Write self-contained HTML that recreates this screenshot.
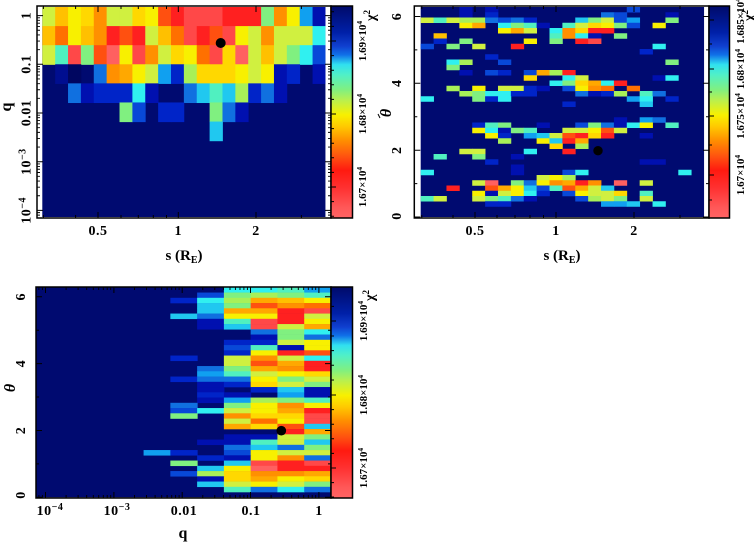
<!DOCTYPE html>
<html><head><meta charset="utf-8"><style>
html,body{margin:0;padding:0;background:#fff;}
svg{display:block;}
text{font-family:"Liberation Serif",serif;font-weight:bold;fill:#000;}
.tl{font-size:14px;letter-spacing:0.5px;}
.cbl{font-size:11px;}
.N{fill:#000a70}.n0{fill:#000e90}.dk{fill:#000660}.n1{fill:#0010b0}.b2{fill:#0024c8}.b3{fill:#0848d8}.b4{fill:#1070e0}.s{fill:#10a0f0}.s2{fill:#20c8f0}.c{fill:#30f0f0}.cg{fill:#50f0c0}.g{fill:#80f080}.gy{fill:#a8f058}.yg{fill:#d0f040}.y{fill:#f8f000}.yo{fill:#ffd800}.yc{fill:#ffc000}.o1{fill:#ffa800}.o{fill:#ff9000}.o2{fill:#ff7000}.or{fill:#ff5010}.r{fill:#ff2020}.lr{fill:#ff4848}.pr{fill:#ff6060}
</style></head><body>
<svg width="754" height="543" viewBox="0 0 754 543" xmlns="http://www.w3.org/2000/svg">
<defs>
<linearGradient id="cb" x1="0" y1="0" x2="0" y2="1">
<stop offset="0" stop-color="#000a6a"/><stop offset="0.125" stop-color="#0020a8"/><stop offset="0.19" stop-color="#1040d0"/><stop offset="0.23" stop-color="#1070e8"/><stop offset="0.276" stop-color="#30e0f0"/><stop offset="0.324" stop-color="#50f0c8"/><stop offset="0.395" stop-color="#80f080"/><stop offset="0.443" stop-color="#b8f050"/><stop offset="0.514" stop-color="#f8f000"/><stop offset="0.57" stop-color="#ffc800"/><stop offset="0.633" stop-color="#ff9000"/><stop offset="0.713" stop-color="#ff5010"/><stop offset="0.776" stop-color="#ff1a10"/><stop offset="0.855" stop-color="#ff3030"/><stop offset="0.95" stop-color="#ff5858"/><stop offset="1" stop-color="#ff6464"/>
</linearGradient>
</defs>
<rect width="754" height="543" fill="#fff"/>

<!-- ===== TOP LEFT HEATMAP ===== -->
<g transform="translate(42.3,7) scale(12.87,19.09)">
<rect x="0" y="0" width="22" height="11" class="N"/>
<rect x="0" y="0" width="1.03" height="1.03" class="yg"/><rect x="1" y="0" width="1.03" height="1.03" class="yc"/><rect x="2" y="0" width="1.03" height="1.03" class="y"/><rect x="3" y="0" width="1.03" height="1.03" class="yo"/><rect x="4" y="0" width="1.03" height="1.03" class="o"/><rect x="5" y="0" width="1.03" height="1.03" class="yg"/><rect x="6" y="0" width="1.03" height="1.03" class="yg"/><rect x="7" y="0" width="1.03" height="1.03" class="yo"/><rect x="8" y="0" width="1.03" height="1.03" class="y"/><rect x="9" y="0" width="1.03" height="1.03" class="or"/><rect x="10" y="0" width="1.03" height="1.03" class="r"/><rect x="11" y="0" width="1.03" height="1.03" class="lr"/><rect x="12" y="0" width="1.03" height="1.03" class="lr"/><rect x="13" y="0" width="1.03" height="1.03" class="lr"/><rect x="14" y="0" width="1.03" height="1.03" class="r"/><rect x="15" y="0" width="1.03" height="1.03" class="r"/><rect x="16" y="0" width="1.03" height="1.03" class="r"/><rect x="17" y="0" width="1.03" height="1.03" class="g"/><rect x="18" y="0" width="1.03" height="1.03" class="o"/><rect x="19" y="0" width="1.03" height="1.03" class="y"/><rect x="20" y="0" width="1.03" height="1.03" class="s"/><rect x="21" y="0" width="1" height="1.03" class="n1"/>
<rect x="0" y="1" width="1.03" height="1.03" class="yc"/><rect x="1" y="1" width="1.03" height="1.03" class="o2"/><rect x="2" y="1" width="1.03" height="1.03" class="y"/><rect x="3" y="1" width="1.03" height="1.03" class="yc"/><rect x="4" y="1" width="1.03" height="1.03" class="o"/><rect x="5" y="1" width="1.03" height="1.03" class="r"/><rect x="6" y="1" width="1.03" height="1.03" class="or"/><rect x="7" y="1" width="1.03" height="1.03" class="r"/><rect x="8" y="1" width="1.03" height="1.03" class="yg"/><rect x="9" y="1" width="1.03" height="1.03" class="yc"/><rect x="10" y="1" width="1.03" height="1.03" class="o2"/><rect x="11" y="1" width="1.03" height="1.03" class="lr"/><rect x="12" y="1" width="1.03" height="1.03" class="r"/><rect x="13" y="1" width="1.03" height="1.03" class="or"/><rect x="14" y="1" width="1.03" height="1.03" class="lr"/><rect x="15" y="1" width="1.03" height="1.03" class="y"/><rect x="16" y="1" width="1.03" height="1.03" class="yg"/><rect x="17" y="1" width="1.03" height="1.03" class="o"/><rect x="18" y="1" width="1.03" height="1.03" class="yg"/><rect x="19" y="1" width="1.03" height="1.03" class="yg"/><rect x="20" y="1" width="1.03" height="1.03" class="yg"/><rect x="21" y="1" width="1" height="1.03" class="c"/>
<rect x="0" y="2" width="1.03" height="1.03" class="yg"/><rect x="1" y="2" width="1.03" height="1.03" class="cg"/><rect x="2" y="2" width="1.03" height="1.03" class="lr"/><rect x="3" y="2" width="1.03" height="1.03" class="g"/><rect x="4" y="2" width="1.03" height="1.03" class="or"/><rect x="5" y="2" width="1.03" height="1.03" class="pr"/><rect x="6" y="2" width="1.03" height="1.03" class="y"/><rect x="7" y="2" width="1.03" height="1.03" class="lr"/><rect x="8" y="2" width="1.03" height="1.03" class="o"/><rect x="9" y="2" width="1.03" height="1.03" class="yg"/><rect x="10" y="2" width="1.03" height="1.03" class="yo"/><rect x="11" y="2" width="1.03" height="1.03" class="y"/><rect x="12" y="2" width="1.03" height="1.03" class="o2"/><rect x="13" y="2" width="1.03" height="1.03" class="lr"/><rect x="14" y="2" width="1.03" height="1.03" class="yo"/><rect x="15" y="2" width="1.03" height="1.03" class="pr"/><rect x="16" y="2" width="1.03" height="1.03" class="yg"/><rect x="17" y="2" width="1.03" height="1.03" class="yc"/><rect x="18" y="2" width="1.03" height="1.03" class="yg"/><rect x="19" y="2" width="1.03" height="1.03" class="g"/><rect x="20" y="2" width="1.03" height="1.03" class="c"/><rect x="21" y="2" width="1" height="1.03" class="b3"/>
<rect x="1" y="3" width="1.03" height="1.03" class="n0"/><rect x="2" y="3" width="1.03" height="1.03" class="dk"/><rect x="4" y="3" width="1.03" height="1.03" class="b4"/><rect x="5" y="3" width="1.03" height="1.03" class="o"/><rect x="6" y="3" width="1.03" height="1.03" class="o1"/><rect x="7" y="3" width="1.03" height="1.03" class="y"/><rect x="8" y="3" width="1.03" height="1.03" class="yg"/><rect x="9" y="3" width="1.03" height="1.03" class="s"/><rect x="10" y="3" width="1.03" height="1.03" class="b2"/><rect x="11" y="3" width="1.03" height="1.03" class="gy"/><rect x="12" y="3" width="1.03" height="1.03" class="yo"/><rect x="13" y="3" width="1.03" height="1.03" class="yo"/><rect x="14" y="3" width="1.03" height="1.03" class="yo"/><rect x="15" y="3" width="1.03" height="1.03" class="y"/><rect x="16" y="3" width="1.03" height="1.03" class="yg"/><rect x="17" y="3" width="1.03" height="1.03" class="y"/><rect x="18" y="3" width="1.03" height="1.03" class="n1"/><rect x="19" y="3" width="1.03" height="1.03" class="b2"/><rect x="21" y="3" width="1" height="1.03" class="n1"/>
<rect x="2" y="4" width="1.03" height="1.03" class="b4"/><rect x="3" y="4" width="1.03" height="1.03" class="n1"/><rect x="4" y="4" width="1.03" height="1.03" class="b2"/><rect x="5" y="4" width="1.03" height="1.03" class="b2"/><rect x="6" y="4" width="1.03" height="1.03" class="b2"/><rect x="7" y="4" width="1.03" height="1.03" class="c"/><rect x="8" y="4" width="1.03" height="1.03" class="n1"/><rect x="11" y="4" width="1.03" height="1.03" class="b4"/><rect x="12" y="4" width="1.03" height="1.03" class="s2"/><rect x="13" y="4" width="1.03" height="1.03" class="cg"/><rect x="14" y="4" width="1.03" height="1.03" class="s2"/><rect x="15" y="4" width="1.03" height="1.03" class="gy"/><rect x="16" y="4" width="1.03" height="1.03" class="b2"/><rect x="17" y="4" width="1.03" height="1.03" class="b4"/><rect x="18" y="4" width="1.03" height="1.03" class="n1"/>
<rect x="6" y="5" width="1.03" height="1.03" class="g"/><rect x="7" y="5" width="1.03" height="1.03" class="b3"/><rect x="9" y="5" width="1.03" height="1.03" class="b2"/><rect x="10" y="5" width="1.03" height="1.03" class="b2"/><rect x="13" y="5" width="1.03" height="1.03" class="g"/><rect x="14" y="5" width="1.03" height="1.03" class="b4"/><rect x="15" y="5" width="1.03" height="1.03" class="n1"/>
<rect x="13" y="6" width="1.03" height="1.03" class="s2"/>
</g>
<circle cx="220.7" cy="43" r="5" fill="#000"/>
<!-- TL frame and colorbar -->
<rect x="37" y="6" width="294" height="212" fill="none" stroke="#000" stroke-width="1.5"/>
<rect x="331" y="6" width="21.5" height="212" fill="url(#cb)" stroke="#000" stroke-width="1.5"/>
<path d="M37 15.6h6M37 64.3h6M37 113h6M37 161.7h6M37 210.4h6M331 15.6h-6M331 64.3h-6M331 113h-6M331 161.7h-6M331 210.4h-6" stroke="#000" stroke-width="1"/>
<path d="M37 17.83h3M37 20.32h3M37 23.15h3M37 26.4h3M37 30.26h3M37 34.98h3M37 41.06h3M37 49.64h3M37 66.53h3M37 69.02h3M37 71.85h3M37 75.1h3M37 78.96h3M37 83.68h3M37 89.76h3M37 98.34h3M37 115.23h3M37 117.72h3M37 120.55h3M37 123.8h3M37 127.66h3M37 132.38h3M37 138.46h3M37 147.04h3M37 163.93h3M37 166.42h3M37 169.25h3M37 172.5h3M37 176.36h3M37 181.08h3M37 187.16h3M37 195.74h3M37 212.63h3M37 215.12h3
M331 17.83h-3M331 20.32h-3M331 23.15h-3M331 26.4h-3M331 30.26h-3M331 34.98h-3M331 41.06h-3M331 49.64h-3M331 66.53h-3M331 69.02h-3M331 71.85h-3M331 75.1h-3M331 78.96h-3M331 83.68h-3M331 89.76h-3M331 98.34h-3M331 115.23h-3M331 117.72h-3M331 120.55h-3M331 123.8h-3M331 127.66h-3M331 132.38h-3M331 138.46h-3M331 147.04h-3M331 163.93h-3M331 166.42h-3M331 169.25h-3M331 172.5h-3M331 176.36h-3M331 181.08h-3M331 187.16h-3M331 195.74h-3M331 212.63h-3M331 215.12h-3" stroke="#000" stroke-width="0.9"/>
<path d="M98 218v-6M178.3 218v-6M256 218v-6M98 6v6M178.3 6v6M256 6v6M43.4 218v-3M75.6 218v-3M121 218v-3M138.3 218v-3M153.3 218v-3M166.5 218v-3M301.4 218v-3M43.4 6v3M75.6 6v3M121 6v3M138.3 6v3M153.3 6v3M166.5 6v3M301.4 6v3" stroke="#000" stroke-width="1"/>
<path d="M331 41h5M331 114h5M331 187h5M331 11.8h3M331 26.4h3M331 55.6h3M331 70.2h3M331 84.8h3M331 99.4h3M331 128.6h3M331 143.2h3M331 157.8h3M331 172.4h3M331 201.6h3M331 216.2h3" stroke="#000" stroke-width="1"/>
<!-- TL labels -->
<text class="tl" transform="translate(30.5,15.6) rotate(-90)" text-anchor="middle">1</text>
<text class="tl" transform="translate(30.5,64.3) rotate(-90)" text-anchor="middle">0.1</text>
<text class="tl" transform="translate(30.5,113) rotate(-90)" text-anchor="middle">0.01</text>
<text class="tl" transform="translate(30.5,161.7) rotate(-90)" text-anchor="middle">10<tspan font-size="10" dy="-5">−3</tspan></text>
<text class="tl" transform="translate(30.5,210.4) rotate(-90)" text-anchor="middle">10<tspan font-size="10" dy="-5">−4</tspan></text>
<text transform="translate(11,107) rotate(-90)" text-anchor="middle" font-size="16">q</text>
<text class="tl" x="98" y="235" text-anchor="middle">0.5</text>
<text class="tl" x="178.3" y="235" text-anchor="middle">1</text>
<text class="tl" x="256" y="235" text-anchor="middle">2</text>
<text x="184" y="260" text-anchor="middle" font-size="15">s (R<tspan font-size="10" dy="3">E</tspan><tspan dy="-3">)</tspan></text>
<text class="cbl" transform="translate(366,41) rotate(-90)" text-anchor="middle">1.69×10<tspan font-size="7.5" dy="-4">4</tspan></text>
<text class="cbl" transform="translate(366,114) rotate(-90)" text-anchor="middle">1.68×10<tspan font-size="7.5" dy="-4">4</tspan></text>
<text class="cbl" transform="translate(366,187) rotate(-90)" text-anchor="middle">1.67×10<tspan font-size="7.5" dy="-4">4</tspan></text>
<text transform="translate(375,21) rotate(-90)" font-size="14">χ<tspan font-size="9" dy="-5">2</tspan></text>
<path d="M378 114l2 4" stroke="#000" stroke-width="1"/>

<!-- ===== TOP RIGHT HEATMAP ===== -->
<g transform="translate(420.7,7) scale(12.88,5.25)">
<rect x="0" y="0" width="22" height="40" class="N"/>
<rect x="3" y="0" width="1.03" height="1.05" class="n1"/><rect x="5" y="0" width="1.03" height="1.05" class="n1"/><rect x="16" y="0" width="1.03" height="1.05" class="b3"/>
<rect x="3" y="1" width="1.03" height="1.05" class="n1"/><rect x="5" y="1" width="1.03" height="1.05" class="b2"/><rect x="14" y="1" width="1.03" height="1.05" class="b4"/><rect x="15" y="1" width="1.03" height="1.05" class="b3"/><rect x="19" y="1" width="1.03" height="1.05" class="n1"/>
<rect x="0" y="2" width="1.03" height="1.05" class="yg"/><rect x="1" y="2" width="1.03" height="1.05" class="cg"/><rect x="2" y="2" width="1.03" height="1.05" class="yg"/><rect x="3" y="2" width="1.03" height="1.05" class="gy"/><rect x="4" y="2" width="1.03" height="1.05" class="gy"/><rect x="5" y="2" width="1.03" height="1.05" class="b4"/><rect x="6" y="2" width="1.03" height="1.05" class="b3"/><rect x="7" y="2" width="1.03" height="1.05" class="b4"/><rect x="8" y="2" width="1.03" height="1.05" class="b2"/><rect x="12" y="2" width="1.03" height="1.05" class="s2"/><rect x="13" y="2" width="1.03" height="1.05" class="g"/><rect x="14" y="2" width="1.03" height="1.05" class="yg"/><rect x="15" y="2" width="1.03" height="1.05" class="b3"/><rect x="16" y="2" width="1.03" height="1.05" class="s"/><rect x="19" y="2" width="1.03" height="1.05" class="g"/>
<rect x="3" y="3" width="1.03" height="1.05" class="y"/><rect x="4" y="3" width="1.03" height="1.05" class="o1"/><rect x="6" y="3" width="1.03" height="1.05" class="c"/><rect x="7" y="3" width="1.03" height="1.05" class="g"/><rect x="8" y="3" width="1.03" height="1.05" class="cg"/><rect x="9" y="3" width="1.03" height="1.05" class="n1"/><rect x="11" y="3" width="1.03" height="1.05" class="cg"/><rect x="12" y="3" width="1.03" height="1.05" class="yg"/><rect x="13" y="3" width="1.03" height="1.05" class="yo"/><rect x="14" y="3" width="1.03" height="1.05" class="y"/><rect x="15" y="3" width="1.03" height="1.05" class="g"/><rect x="16" y="3" width="1.03" height="1.05" class="b3"/><rect x="18" y="3" width="1.03" height="1.05" class="y"/>
<rect x="6" y="4" width="1.03" height="1.05" class="y"/><rect x="7" y="4" width="1.03" height="1.05" class="o1"/><rect x="8" y="4" width="1.03" height="1.05" class="yg"/><rect x="10" y="4" width="1.03" height="1.05" class="c"/><rect x="11" y="4" width="1.03" height="1.05" class="o"/><rect x="12" y="4" width="1.03" height="1.05" class="yo"/><rect x="13" y="4" width="1.03" height="1.05" class="r"/><rect x="14" y="4" width="1.03" height="1.05" class="r"/>
<rect x="1" y="5" width="1.03" height="1.05" class="yc"/><rect x="10" y="5" width="1.03" height="1.05" class="cg"/><rect x="11" y="5" width="1.03" height="1.05" class="o"/><rect x="12" y="5" width="1.03" height="1.05" class="c"/><rect x="13" y="5" width="1.03" height="1.05" class="n1"/><rect x="15" y="5" width="1.03" height="1.05" class="g"/>
<rect x="1" y="6" width="1.03" height="1.05" class="b2"/><rect x="3" y="6" width="1.03" height="1.05" class="g"/><rect x="8" y="6" width="1.03" height="1.05" class="y"/><rect x="10" y="6" width="1.03" height="1.05" class="g"/><rect x="12" y="6" width="1.03" height="1.05" class="r"/><rect x="13" y="6" width="1.03" height="1.05" class="lr"/>
<rect x="0" y="7" width="1.03" height="1.05" class="b3"/><rect x="2" y="7" width="1.03" height="1.05" class="g"/><rect x="4" y="7" width="1.03" height="1.05" class="yg"/><rect x="7" y="7" width="1.03" height="1.05" class="r"/><rect x="18" y="7" width="1.03" height="1.05" class="c"/>
<rect x="17" y="8" width="1.03" height="1.05" class="b2"/>
<rect x="5" y="9" width="1.03" height="1.05" class="b2"/>
<rect x="2" y="10" width="1.03" height="1.05" class="c"/><rect x="3" y="10" width="1.03" height="1.05" class="gy"/><rect x="6" y="10" width="1.03" height="1.05" class="b3"/><rect x="19" y="10" width="1.03" height="1.05" class="g"/>
<rect x="2" y="11" width="1.03" height="1.05" class="g"/>
<rect x="3" y="12" width="1.03" height="1.05" class="n1"/><rect x="5" y="12" width="1.03" height="1.05" class="b3"/><rect x="6" y="12" width="1.03" height="1.05" class="b2"/><rect x="8" y="12" width="1.03" height="1.05" class="b3"/><rect x="9" y="12" width="1.03" height="1.05" class="o1"/><rect x="10" y="12" width="1.03" height="1.05" class="gy"/><rect x="11" y="12" width="1.03" height="1.05" class="r"/>
<rect x="8" y="13" width="1.03" height="1.05" class="yo"/><rect x="11" y="13" width="1.03" height="1.05" class="c"/><rect x="12" y="13" width="1.03" height="1.05" class="yg"/><rect x="18" y="13" width="1.03" height="1.05" class="n1"/><rect x="19" y="13" width="1.03" height="1.05" class="c"/>
<rect x="10" y="14" width="1.03" height="1.05" class="c"/><rect x="11" y="14" width="1.03" height="1.05" class="g"/><rect x="12" y="14" width="1.03" height="1.05" class="yo"/><rect x="13" y="14" width="1.03" height="1.05" class="o1"/><rect x="14" y="14" width="1.03" height="1.05" class="c"/><rect x="15" y="14" width="1.03" height="1.05" class="r"/>
<rect x="2" y="15" width="1.03" height="1.05" class="gy"/><rect x="4" y="15" width="1.03" height="1.05" class="y"/><rect x="6" y="15" width="1.03" height="1.05" class="yg"/><rect x="7" y="15" width="1.03" height="1.05" class="yg"/><rect x="8" y="15" width="1.03" height="1.05" class="b2"/><rect x="9" y="15" width="1.03" height="1.05" class="n1"/><rect x="11" y="15" width="1.03" height="1.05" class="b3"/><rect x="12" y="15" width="1.03" height="1.05" class="y"/><rect x="13" y="15" width="1.03" height="1.05" class="o"/><rect x="14" y="15" width="1.03" height="1.05" class="o2"/><rect x="16" y="15" width="1.03" height="1.05" class="o2"/>
<rect x="3" y="16" width="1.03" height="1.05" class="gy"/><rect x="4" y="16" width="1.03" height="1.05" class="g"/><rect x="5" y="16" width="1.03" height="1.05" class="c"/><rect x="6" y="16" width="1.03" height="1.05" class="c"/><rect x="7" y="16" width="1.03" height="1.05" class="b2"/><rect x="8" y="16" width="1.03" height="1.05" class="b2"/><rect x="12" y="16" width="1.03" height="1.05" class="b4"/><rect x="13" y="16" width="1.03" height="1.05" class="n1"/><rect x="14" y="16" width="1.03" height="1.05" class="b2"/><rect x="15" y="16" width="1.03" height="1.05" class="gy"/><rect x="17" y="16" width="1.03" height="1.05" class="cg"/><rect x="18" y="16" width="1.03" height="1.05" class="b4"/>
<rect x="0" y="17" width="1.03" height="1.05" class="c"/><rect x="4" y="17" width="1.03" height="1.05" class="g"/><rect x="5" y="17" width="1.03" height="1.05" class="b2"/><rect x="6" y="17" width="1.03" height="1.05" class="c"/><rect x="16" y="17" width="1.03" height="1.05" class="s"/><rect x="17" y="17" width="1.03" height="1.05" class="c"/><rect x="19" y="17" width="1.03" height="1.05" class="b2"/>
<rect x="11" y="18" width="1.03" height="1.05" class="b2"/><rect x="17" y="18" width="1.03" height="1.05" class="s2"/>
<rect x="15" y="21" width="1.03" height="1.05" class="n1"/><rect x="17" y="21" width="1.03" height="1.05" class="s"/><rect x="18" y="21" width="1.03" height="1.05" class="b4"/>
<rect x="4" y="22" width="1.03" height="1.05" class="b2"/><rect x="5" y="22" width="1.03" height="1.05" class="cg"/><rect x="6" y="22" width="1.03" height="1.05" class="g"/><rect x="9" y="22" width="1.03" height="1.05" class="n1"/><rect x="12" y="22" width="1.03" height="1.05" class="b3"/><rect x="13" y="22" width="1.03" height="1.05" class="g"/><rect x="14" y="22" width="1.03" height="1.05" class="b4"/><rect x="15" y="22" width="1.03" height="1.05" class="n1"/><rect x="16" y="22" width="1.03" height="1.05" class="c"/><rect x="17" y="22" width="1.03" height="1.05" class="y"/><rect x="19" y="22" width="1.03" height="1.05" class="cg"/>
<rect x="4" y="23" width="1.03" height="1.05" class="y"/><rect x="5" y="23" width="1.03" height="1.05" class="c"/><rect x="6" y="23" width="1.03" height="1.05" class="n1"/><rect x="7" y="23" width="1.03" height="1.05" class="g"/><rect x="8" y="23" width="1.03" height="1.05" class="cg"/><rect x="11" y="23" width="1.03" height="1.05" class="yg"/><rect x="12" y="23" width="1.03" height="1.05" class="yg"/><rect x="13" y="23" width="1.03" height="1.05" class="y"/><rect x="14" y="23" width="1.03" height="1.05" class="or"/><rect x="15" y="23" width="1.03" height="1.05" class="yg"/>
<rect x="5" y="24" width="1.03" height="1.05" class="y"/><rect x="6" y="24" width="1.03" height="1.05" class="b2"/><rect x="8" y="24" width="1.03" height="1.05" class="s"/><rect x="9" y="24" width="1.03" height="1.05" class="s2"/><rect x="10" y="24" width="1.03" height="1.05" class="yg"/><rect x="11" y="24" width="1.03" height="1.05" class="or"/><rect x="12" y="24" width="1.03" height="1.05" class="r"/><rect x="13" y="24" width="1.03" height="1.05" class="yo"/><rect x="14" y="24" width="1.03" height="1.05" class="r"/><rect x="17" y="24" width="1.03" height="1.05" class="n1"/>
<rect x="6" y="25" width="1.03" height="1.05" class="gy"/><rect x="9" y="25" width="1.03" height="1.05" class="y"/><rect x="10" y="25" width="1.03" height="1.05" class="s2"/><rect x="11" y="25" width="1.03" height="1.05" class="r"/><rect x="12" y="25" width="1.03" height="1.05" class="o1"/>
<rect x="10" y="26" width="1.03" height="1.05" class="yo"/><rect x="12" y="26" width="1.03" height="1.05" class="gy"/>
<rect x="3" y="27" width="1.03" height="1.05" class="yg"/><rect x="4" y="27" width="1.03" height="1.05" class="yg"/><rect x="8" y="27" width="1.03" height="1.05" class="c"/><rect x="11" y="27" width="1.03" height="1.05" class="r"/>
<rect x="1" y="28" width="1.03" height="1.05" class="cg"/><rect x="4" y="28" width="1.03" height="1.05" class="g"/><rect x="7" y="28" width="1.03" height="1.05" class="n1"/>
<rect x="5" y="29" width="1.03" height="1.05" class="b2"/><rect x="17" y="29" width="1.03" height="1.05" class="n1"/><rect x="18" y="29" width="1.03" height="1.05" class="n1"/>
<rect x="7" y="30" width="1.03" height="1.05" class="n1"/>
<rect x="0" y="31" width="1.03" height="1.05" class="c"/><rect x="7" y="31" width="1.03" height="1.05" class="n1"/><rect x="11" y="31" width="1.03" height="1.05" class="b3"/><rect x="12" y="31" width="1.03" height="1.05" class="c"/><rect x="20" y="31" width="1.03" height="1.05" class="c"/>
<rect x="9" y="32" width="1.03" height="1.05" class="yg"/><rect x="10" y="32" width="1.03" height="1.05" class="y"/><rect x="11" y="32" width="1.03" height="1.05" class="gy"/>
<rect x="4" y="33" width="1.03" height="1.05" class="yg"/><rect x="5" y="33" width="1.03" height="1.05" class="pr"/><rect x="7" y="33" width="1.03" height="1.05" class="g"/><rect x="8" y="33" width="1.03" height="1.05" class="b4"/><rect x="9" y="33" width="1.03" height="1.05" class="y"/><rect x="10" y="33" width="1.03" height="1.05" class="o"/><rect x="11" y="33" width="1.03" height="1.05" class="o1"/><rect x="12" y="33" width="1.03" height="1.05" class="r"/><rect x="13" y="33" width="1.03" height="1.05" class="o"/><rect x="15" y="33" width="1.03" height="1.05" class="pr"/><rect x="17" y="33" width="1.03" height="1.05" class="yg"/>
<rect x="2" y="34" width="1.03" height="1.05" class="r"/><rect x="5" y="34" width="1.03" height="1.05" class="or"/><rect x="6" y="34" width="1.03" height="1.05" class="o1"/><rect x="7" y="34" width="1.03" height="1.05" class="y"/><rect x="8" y="34" width="1.03" height="1.05" class="s2"/><rect x="9" y="34" width="1.03" height="1.05" class="b3"/><rect x="10" y="34" width="1.03" height="1.05" class="cg"/><rect x="11" y="34" width="1.03" height="1.05" class="or"/><rect x="12" y="34" width="1.03" height="1.05" class="o1"/><rect x="13" y="34" width="1.03" height="1.05" class="yg"/><rect x="14" y="34" width="1.03" height="1.05" class="s2"/>
<rect x="4" y="35" width="1.03" height="1.05" class="y"/><rect x="5" y="35" width="1.03" height="1.05" class="n1"/><rect x="6" y="35" width="1.03" height="1.05" class="yg"/><rect x="7" y="35" width="1.03" height="1.05" class="y"/><rect x="8" y="35" width="1.03" height="1.05" class="c"/><rect x="9" y="35" width="1.03" height="1.05" class="b2"/><rect x="11" y="35" width="1.03" height="1.05" class="b3"/><rect x="12" y="35" width="1.03" height="1.05" class="y"/><rect x="13" y="35" width="1.03" height="1.05" class="yg"/><rect x="14" y="35" width="1.03" height="1.05" class="yg"/><rect x="15" y="35" width="1.03" height="1.05" class="yo"/><rect x="17" y="35" width="1.03" height="1.05" class="cg"/>
<rect x="0" y="36" width="1.03" height="1.05" class="cg"/><rect x="1" y="36" width="1.03" height="1.05" class="yg"/><rect x="4" y="36" width="1.03" height="1.05" class="yg"/><rect x="5" y="36" width="1.03" height="1.05" class="g"/><rect x="6" y="36" width="1.03" height="1.05" class="cg"/><rect x="7" y="36" width="1.03" height="1.05" class="b4"/><rect x="8" y="36" width="1.03" height="1.05" class="n1"/><rect x="12" y="36" width="1.03" height="1.05" class="b3"/><rect x="13" y="36" width="1.03" height="1.05" class="gy"/><rect x="14" y="36" width="1.03" height="1.05" class="yg"/><rect x="15" y="36" width="1.03" height="1.05" class="g"/><rect x="17" y="36" width="1.03" height="1.05" class="yg"/>
<rect x="5" y="37" width="1.03" height="1.05" class="b2"/><rect x="6" y="37" width="1.03" height="1.05" class="b2"/><rect x="14" y="37" width="1.03" height="1.05" class="s"/><rect x="15" y="37" width="1.03" height="1.05" class="s"/><rect x="16" y="37" width="1.03" height="1.05" class="s2"/><rect x="18" y="37" width="1.03" height="1.05" class="c"/>
</g>
<circle cx="598" cy="150.7" r="4.7" fill="#000"/>
<rect x="414.3" y="6" width="294.7" height="212" fill="none" stroke="#000" stroke-width="1.5"/>
<rect x="709" y="6" width="20.5" height="212" fill="url(#cb)" stroke="#000" stroke-width="1.5"/>
<path d="M414.3 217h6M414.3 150.2h6M414.3 83.3h6M414.3 16.5h6M414.3 183.6h3M414.3 116.7h3M414.3 49.9h3M709 217h-6M709 150.2h-6M709 83.3h-6M709 16.5h-6M709 183.6h-3M709 116.7h-3M709 49.9h-3" stroke="#000" stroke-width="1"/>
<path d="M475 218v-6M556 218v-6M634 218v-6M475 6v6M556 6v6M634 6v6M421.8 218v-3M453 218v-3M497 218v-3M515 218v-3M530 218v-3M543.5 218v-3M680 218v-3M421.8 6v3M453 6v3M497 6v3M515 6v3M530 6v3M543.5 6v3M680 6v3" stroke="#000" stroke-width="1"/>
<path d="M709 20h5M709 69h5M709 116h5M709 175h5M709 44h3M709 92h3M709 145h3M709 200h3" stroke="#000" stroke-width="1"/>
<text class="tl" transform="translate(401,216) rotate(-90)" text-anchor="middle">0</text>
<text class="tl" transform="translate(401,150.2) rotate(-90)" text-anchor="middle">2</text>
<text class="tl" transform="translate(401,83.3) rotate(-90)" text-anchor="middle">4</text>
<text class="tl" transform="translate(401,16.5) rotate(-90)" text-anchor="middle">6</text>
<text transform="translate(391,113) rotate(-90)" text-anchor="middle" font-size="16" font-style="italic">θ</text>
<text class="tl" x="475" y="235" text-anchor="middle">0.5</text>
<text class="tl" x="556" y="235" text-anchor="middle">1</text>
<text class="tl" x="634" y="235" text-anchor="middle">2</text>
<text x="562" y="260" text-anchor="middle" font-size="15">s (R<tspan font-size="10" dy="3">E</tspan><tspan dy="-3">)</tspan></text>
<text class="cbl" transform="translate(744,21) rotate(-90)" text-anchor="middle">1.685×10<tspan font-size="7.5" dy="-4">4</tspan></text>
<text class="cbl" transform="translate(744,69) rotate(-90)" text-anchor="middle">1.68×10<tspan font-size="7.5" dy="-4">4</tspan></text>
<text class="cbl" transform="translate(744,116) rotate(-90)" text-anchor="middle">1.675×10<tspan font-size="7.5" dy="-4">4</tspan></text>
<text class="cbl" transform="translate(744,175) rotate(-90)" text-anchor="middle">1.67×10<tspan font-size="7.5" dy="-4">4</tspan></text>
<text transform="translate(753,21) rotate(-90)" font-size="14">χ<tspan font-size="9" dy="-5">2</tspan></text>

<!-- ===== BOTTOM HEATMAP ===== -->
<g transform="translate(36.5,287.3) scale(26.77,5.25)">
<rect x="0" y="0" width="11" height="40" class="N"/>
<rect x="7" y="0" width="1.02" height="1.05" class="c"/><rect x="8" y="0" width="1.02" height="1.05" class="c"/><rect x="9" y="0" width="1.02" height="1.05" class="cg"/><rect x="10" y="0" width="1" height="1.05" class="s"/>
<rect x="6" y="1" width="1.02" height="1.05" class="b3"/><rect x="7" y="1" width="1.02" height="1.05" class="g"/><rect x="8" y="1" width="1.02" height="1.05" class="gy"/><rect x="9" y="1" width="1.02" height="1.05" class="g"/><rect x="10" y="1" width="1" height="1.05" class="cg"/>
<rect x="5" y="2" width="1.02" height="1.05" class="b2"/><rect x="6" y="2" width="1.02" height="1.05" class="c"/><rect x="7" y="2" width="1.02" height="1.05" class="gy"/><rect x="8" y="2" width="1.02" height="1.05" class="o1"/><rect x="9" y="2" width="1.02" height="1.05" class="yc"/><rect x="10" y="2" width="1" height="1.05" class="y"/>
<rect x="6" y="3" width="1.02" height="1.05" class="s2"/><rect x="7" y="3" width="1.02" height="1.05" class="g"/><rect x="8" y="3" width="1.02" height="1.05" class="or"/><rect x="9" y="3" width="1.02" height="1.05" class="o"/><rect x="10" y="3" width="1" height="1.05" class="o2"/>
<rect x="6" y="4" width="1.02" height="1.05" class="s2"/><rect x="7" y="4" width="1.02" height="1.05" class="o1"/><rect x="8" y="4" width="1.02" height="1.05" class="o1"/><rect x="9" y="4" width="1.02" height="1.05" class="r"/><rect x="10" y="4" width="1" height="1.05" class="lr"/>
<rect x="5" y="5" width="1.02" height="1.05" class="s2"/><rect x="6" y="5" width="1.02" height="1.05" class="b4"/><rect x="7" y="5" width="1.02" height="1.05" class="y"/><rect x="8" y="5" width="1.02" height="1.05" class="y"/><rect x="9" y="5" width="1.02" height="1.05" class="r"/><rect x="10" y="5" width="1" height="1.05" class="yg"/>
<rect x="6" y="6" width="1.02" height="1.05" class="n1"/><rect x="7" y="6" width="1.02" height="1.05" class="cg"/><rect x="8" y="6" width="1.02" height="1.05" class="lr"/><rect x="9" y="6" width="1.02" height="1.05" class="r"/><rect x="10" y="6" width="1" height="1.05" class="y"/>
<rect x="6" y="7" width="1.02" height="1.05" class="n1"/><rect x="7" y="7" width="1.02" height="1.05" class="s2"/><rect x="8" y="7" width="1.02" height="1.05" class="lr"/><rect x="9" y="7" width="1.02" height="1.05" class="yg"/><rect x="10" y="7" width="1" height="1.05" class="o1"/>
<rect x="8" y="8" width="1.02" height="1.05" class="b4"/><rect x="9" y="8" width="1.02" height="1.05" class="g"/><rect x="10" y="8" width="1" height="1.05" class="c"/>
<rect x="8" y="9" width="1.02" height="1.05" class="n1"/><rect x="9" y="9" width="1.02" height="1.05" class="g"/><rect x="10" y="9" width="1" height="1.05" class="b4"/>
<rect x="7" y="10" width="1.02" height="1.05" class="b2"/><rect x="8" y="10" width="1.02" height="1.05" class="b2"/><rect x="9" y="10" width="1.02" height="1.05" class="yg"/><rect x="10" y="10" width="1" height="1.05" class="y"/>
<rect x="7" y="11" width="1.02" height="1.05" class="b3"/><rect x="8" y="11" width="1.02" height="1.05" class="cg"/><rect x="9" y="11" width="1.02" height="1.05" class="n1"/><rect x="10" y="11" width="1" height="1.05" class="y"/>
<rect x="7" y="12" width="1.02" height="1.05" class="b2"/><rect x="8" y="12" width="1.02" height="1.05" class="y"/><rect x="9" y="12" width="1.02" height="1.05" class="r"/><rect x="10" y="12" width="1" height="1.05" class="or"/>
<rect x="5" y="13" width="1.02" height="1.05" class="b2"/><rect x="7" y="13" width="1.02" height="1.05" class="yg"/><rect x="8" y="13" width="1.02" height="1.05" class="o"/><rect x="9" y="13" width="1.02" height="1.05" class="yg"/><rect x="10" y="13" width="1" height="1.05" class="c"/>
<rect x="7" y="14" width="1.02" height="1.05" class="yg"/><rect x="8" y="14" width="1.02" height="1.05" class="or"/><rect x="9" y="14" width="1.02" height="1.05" class="o1"/><rect x="10" y="14" width="1" height="1.05" class="r"/>
<rect x="6" y="15" width="1.02" height="1.05" class="b4"/><rect x="7" y="15" width="1.02" height="1.05" class="g"/><rect x="8" y="15" width="1.02" height="1.05" class="o1"/><rect x="9" y="15" width="1.02" height="1.05" class="o"/><rect x="10" y="15" width="1" height="1.05" class="r"/>
<rect x="6" y="16" width="1.02" height="1.05" class="s"/><rect x="7" y="16" width="1.02" height="1.05" class="cg"/><rect x="8" y="16" width="1.02" height="1.05" class="yg"/><rect x="9" y="16" width="1.02" height="1.05" class="y"/><rect x="10" y="16" width="1" height="1.05" class="yo"/>
<rect x="5" y="17" width="1.02" height="1.05" class="b2"/><rect x="6" y="17" width="1.02" height="1.05" class="b4"/><rect x="7" y="17" width="1.02" height="1.05" class="b4"/><rect x="8" y="17" width="1.02" height="1.05" class="y"/><rect x="9" y="17" width="1.02" height="1.05" class="g"/><rect x="10" y="17" width="1" height="1.05" class="yg"/>
<rect x="6" y="18" width="1.02" height="1.05" class="n1"/><rect x="7" y="18" width="1.02" height="1.05" class="b2"/><rect x="8" y="18" width="1.02" height="1.05" class="yo"/><rect x="9" y="18" width="1.02" height="1.05" class="yg"/><rect x="10" y="18" width="1" height="1.05" class="g"/>
<rect x="6" y="19" width="1.02" height="1.05" class="n1"/><rect x="8" y="19" width="1.02" height="1.05" class="b2"/><rect x="9" y="19" width="1.02" height="1.05" class="s2"/><rect x="10" y="19" width="1" height="1.05" class="n1"/>
<rect x="6" y="20" width="1.02" height="1.05" class="b2"/><rect x="7" y="20" width="1.02" height="1.05" class="n1"/><rect x="9" y="20" width="1.02" height="1.05" class="s"/><rect x="10" y="20" width="1" height="1.05" class="n1"/>
<rect x="6" y="21" width="1.02" height="1.05" class="n1"/><rect x="7" y="21" width="1.02" height="1.05" class="s"/><rect x="8" y="21" width="1.02" height="1.05" class="gy"/><rect x="9" y="21" width="1.02" height="1.05" class="g"/><rect x="10" y="21" width="1" height="1.05" class="cg"/>
<rect x="5" y="22" width="1.02" height="1.05" class="b4"/><rect x="7" y="22" width="1.02" height="1.05" class="g"/><rect x="8" y="22" width="1.02" height="1.05" class="y"/><rect x="9" y="22" width="1.02" height="1.05" class="o"/><rect x="10" y="22" width="1" height="1.05" class="y"/>
<rect x="5" y="23" width="1.02" height="1.05" class="b3"/><rect x="6" y="23" width="1.02" height="1.05" class="c"/><rect x="7" y="23" width="1.02" height="1.05" class="yg"/><rect x="8" y="23" width="1.02" height="1.05" class="y"/><rect x="9" y="23" width="1.02" height="1.05" class="o1"/><rect x="10" y="23" width="1" height="1.05" class="r"/>
<rect x="5" y="24" width="1.02" height="1.05" class="g"/><rect x="7" y="24" width="1.02" height="1.05" class="o"/><rect x="8" y="24" width="1.02" height="1.05" class="yo"/><rect x="9" y="24" width="1.02" height="1.05" class="yo"/><rect x="10" y="24" width="1" height="1.05" class="lr"/>
<rect x="7" y="25" width="1.02" height="1.05" class="yg"/><rect x="8" y="25" width="1.02" height="1.05" class="o2"/><rect x="9" y="25" width="1.02" height="1.05" class="y"/><rect x="10" y="25" width="1" height="1.05" class="lr"/>
<rect x="7" y="26" width="1.02" height="1.05" class="o1"/><rect x="8" y="26" width="1.02" height="1.05" class="yo"/><rect x="9" y="26" width="1.02" height="1.05" class="or"/><rect x="10" y="26" width="1" height="1.05" class="s2"/>
<rect x="9" y="27" width="1.02" height="1.05" class="r"/><rect x="10" y="27" width="1" height="1.05" class="o1"/>
<rect x="7" y="28" width="1.02" height="1.05" class="n1"/><rect x="8" y="28" width="1.02" height="1.05" class="n1"/><rect x="9" y="28" width="1.02" height="1.05" class="yg"/><rect x="10" y="28" width="1" height="1.05" class="g"/>
<rect x="6" y="29" width="1.02" height="1.05" class="n1"/><rect x="7" y="29" width="1.02" height="1.05" class="n1"/><rect x="8" y="29" width="1.02" height="1.05" class="cg"/><rect x="9" y="29" width="1.02" height="1.05" class="yg"/><rect x="10" y="29" width="1" height="1.05" class="s2"/>
<rect x="7" y="30" width="1.02" height="1.05" class="b4"/><rect x="8" y="30" width="1.02" height="1.05" class="s2"/><rect x="9" y="30" width="1.02" height="1.05" class="b4"/><rect x="10" y="30" width="1" height="1.05" class="g"/>
<rect x="4" y="31" width="1.02" height="1.05" class="s"/><rect x="5" y="31" width="1.02" height="1.05" class="b2"/><rect x="7" y="31" width="1.02" height="1.05" class="b3"/><rect x="8" y="31" width="1.02" height="1.05" class="y"/><rect x="9" y="31" width="1.02" height="1.05" class="yg"/><rect x="10" y="31" width="1" height="1.05" class="yg"/>
<rect x="6" y="32" width="1.02" height="1.05" class="b2"/><rect x="7" y="32" width="1.02" height="1.05" class="n1"/><rect x="8" y="32" width="1.02" height="1.05" class="y"/><rect x="9" y="32" width="1.02" height="1.05" class="o"/><rect x="10" y="32" width="1" height="1.05" class="b4"/>
<rect x="5" y="33" width="1.02" height="1.05" class="g"/><rect x="7" y="33" width="1.02" height="1.05" class="s2"/><rect x="8" y="33" width="1.02" height="1.05" class="lr"/><rect x="9" y="33" width="1.02" height="1.05" class="r"/><rect x="10" y="33" width="1" height="1.05" class="lr"/>
<rect x="6" y="34" width="1.02" height="1.05" class="s2"/><rect x="7" y="34" width="1.02" height="1.05" class="y"/><rect x="8" y="34" width="1.02" height="1.05" class="pr"/><rect x="9" y="34" width="1.02" height="1.05" class="r"/><rect x="10" y="34" width="1" height="1.05" class="r"/>
<rect x="5" y="35" width="1.02" height="1.05" class="b3"/><rect x="6" y="35" width="1.02" height="1.05" class="gy"/><rect x="7" y="35" width="1.02" height="1.05" class="yo"/><rect x="8" y="35" width="1.02" height="1.05" class="o"/><rect x="9" y="35" width="1.02" height="1.05" class="o"/><rect x="10" y="35" width="1" height="1.05" class="o1"/>
<rect x="6" y="36" width="1.02" height="1.05" class="n1"/><rect x="7" y="36" width="1.02" height="1.05" class="yo"/><rect x="8" y="36" width="1.02" height="1.05" class="o1"/><rect x="9" y="36" width="1.02" height="1.05" class="y"/><rect x="10" y="36" width="1" height="1.05" class="yo"/>
<rect x="6" y="37" width="1.02" height="1.05" class="s2"/><rect x="7" y="37" width="1.02" height="1.05" class="yg"/><rect x="8" y="37" width="1.02" height="1.05" class="y"/><rect x="9" y="37" width="1.02" height="1.05" class="yg"/><rect x="10" y="37" width="1" height="1.05" class="g"/>
<rect x="7" y="38" width="1.02" height="1.05" class="cg"/><rect x="8" y="38" width="1.02" height="1.05" class="b4"/><rect x="9" y="38" width="1.02" height="1.05" class="c"/><rect x="10" y="38" width="1" height="1.05" class="b4"/>
</g>
<circle cx="281.3" cy="430.7" r="4.8" fill="#000"/>
<rect x="36" y="287" width="295" height="211" fill="none" stroke="#000" stroke-width="1.5"/>
<rect x="331" y="287" width="21.5" height="211" fill="url(#cb)" stroke="#000" stroke-width="1.5"/>
<path d="M36 497.3h6M36 430.5h6M36 363.6h6M36 296.8h6M36 463.9h3M36 397h3M36 330.2h3M331 497.3h-6M331 430.5h-6M331 363.6h-6M331 296.8h-6M331 463.9h-3M331 397h-3M331 330.2h-3" stroke="#000" stroke-width="1"/>
<path d="M45.5 498v-6M113.9 498v-6M182.2 498v-6M250.5 498v-6M318.9 498v-6M45.5 287v6M113.9 287v6M182.2 287v6M250.5 287v6M318.9 287v6" stroke="#000" stroke-width="1"/>
<path d="M38.9 498v-3M42.4 498v-3M66.1 498v-3M78.1 498v-3M86.7 498v-3M93.3 498v-3M98.7 498v-3M103.3 498v-3M107.2 498v-3M110.7 498v-3M134.5 498v-3M146.5 498v-3M155.1 498v-3M161.7 498v-3M167.1 498v-3M171.7 498v-3M175.6 498v-3M179.1 498v-3M202.8 498v-3M214.8 498v-3M223.4 498v-3M230 498v-3M235.4 498v-3M240 498v-3M243.9 498v-3M247.4 498v-3M271.1 498v-3M283.1 498v-3M291.7 498v-3M298.3 498v-3M303.7 498v-3M308.3 498v-3M312.2 498v-3M315.7 498v-3
M38.9 287v3M42.4 287v3M66.1 287v3M78.1 287v3M86.7 287v3M93.3 287v3M98.7 287v3M103.3 287v3M107.2 287v3M110.7 287v3M134.5 287v3M146.5 287v3M155.1 287v3M161.7 287v3M167.1 287v3M171.7 287v3M175.6 287v3M179.1 287v3M202.8 287v3M214.8 287v3M223.4 287v3M230 287v3M235.4 287v3M240 287v3M243.9 287v3M247.4 287v3M271.1 287v3M283.1 287v3M291.7 287v3M298.3 287v3M303.7 287v3M308.3 287v3M312.2 287v3M315.7 287v3" stroke="#000" stroke-width="0.9"/>
<path d="M331 321h5M331 395h5M331 468h5M331 306.4h3M331 336h3M331 350.6h3M331 365.2h3M331 380h3M331 409.6h3M331 424.2h3M331 438.8h3M331 453.4h3M331 482.6h3M331 497h3" stroke="#000" stroke-width="1"/>
<text class="tl" transform="translate(25,495) rotate(-90)" text-anchor="middle">0</text>
<text class="tl" transform="translate(25,430.5) rotate(-90)" text-anchor="middle">2</text>
<text class="tl" transform="translate(25,363.6) rotate(-90)" text-anchor="middle">4</text>
<text class="tl" transform="translate(25,296.8) rotate(-90)" text-anchor="middle">6</text>
<text transform="translate(15,388) rotate(-90)" text-anchor="middle" font-size="16" font-style="italic">θ</text>
<text class="tl" x="50" y="515" text-anchor="middle">10<tspan font-size="10" dy="-5">−4</tspan></text>
<text class="tl" x="117" y="515" text-anchor="middle">10<tspan font-size="10" dy="-5">−3</tspan></text>
<text class="tl" x="184" y="515" text-anchor="middle">0.01</text>
<text class="tl" x="251" y="515" text-anchor="middle">0.1</text>
<text class="tl" x="319" y="515" text-anchor="middle">1</text>
<text x="183" y="538" text-anchor="middle" font-size="16">q</text>
<text class="cbl" transform="translate(367,321) rotate(-90)" text-anchor="middle">1.69×10<tspan font-size="7.5" dy="-4">4</tspan></text>
<text class="cbl" transform="translate(367,395) rotate(-90)" text-anchor="middle">1.68×10<tspan font-size="7.5" dy="-4">4</tspan></text>
<text class="cbl" transform="translate(367,468) rotate(-90)" text-anchor="middle">1.67×10<tspan font-size="7.5" dy="-4">4</tspan></text>
<text transform="translate(374,301) rotate(-90)" font-size="14">χ<tspan font-size="9" dy="-5">2</tspan></text>
</svg>
</body></html>
